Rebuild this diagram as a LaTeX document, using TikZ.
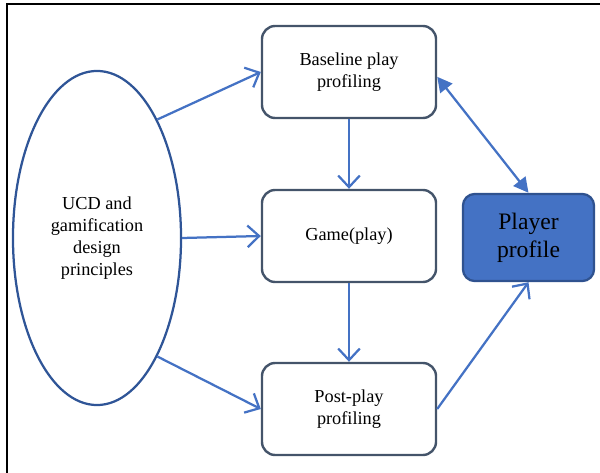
\documentclass[tikz,border=0pt]{standalone}
\usepackage{fontspec}
\setmainfont{Liberation Serif}
\usetikzlibrary{arrows.meta,shapes.geometric}
\definecolor{boxline}{HTML}{44546A}
\definecolor{ellline}{HTML}{2F5597}
\definecolor{arrowblue}{HTML}{4472C4}
\definecolor{profline}{HTML}{2F528F}
\tikzset{
    stagebox/.style={draw=boxline,line width=1.7pt,rounded corners=0.33cm,
      minimum width=4.35cm,minimum height=2.3cm,align=center,
      font=\fontsize{13}{15.6}\selectfont},
    flow/.style={draw=arrowblue,line width=1.6pt,
      -{Straight Barb[length=2.9mm,width=5.4mm,line width=1.6pt]}},
    twoway/.style={draw=arrowblue,line width=1.6pt,
      {Triangle[length=3.7mm,width=3.8mm]}-{Triangle[length=3.7mm,width=3.8mm]}}
}
\begin{document}
\begin{tikzpicture}[x=0.025cm,y=-0.025cm]
    \useasboundingbox (0,0) rectangle (600,473);
    % frame of the figure (top and left only)
    \draw[line width=1pt] (600,4) -- (7,4) -- (7,473);

    \node[draw=ellline,line width=1.6pt,ellipse,minimum width=4.2cm,
      minimum height=8.35cm,inner sep=0pt,align=center,
      font=\fontsize{13}{15.6}\selectfont] (Principles) at (97,238)
      {UCD and\\gamification\\design\\principles};

    \node[stagebox] (Baseline) at (349,72)  {Baseline play\\profiling};
    \node[stagebox] (Game)     at (349,236) {Game(play)};
    \node[stagebox] (PostPlay) at (349,409) {Post-play\\profiling};
    \node[draw=profline,fill=arrowblue,line width=1.6pt,rounded corners=0.3cm,
      minimum width=3.28cm,minimum height=2.18cm,align=center,
      font=\fontsize{16.8}{20}\selectfont] (Profile) at (528.5,237.5)
      {Player\\profile};

    \draw[flow] (Principles.63) -- (Baseline.west);
    \draw[flow] (Principles.east) -- (Game.west);
    \draw[flow] (Principles.-63) -- (PostPlay.west);
    \draw[flow] (Baseline.south) -- (Game.north);
    \draw[flow] (Game.south) -- (PostPlay.north);
    \draw[twoway] ([yshift=-0.12cm]Baseline.east) -- (Profile.north);
    \draw[flow] (PostPlay.east) -- (Profile.south);
\end{tikzpicture}
\end{document}
